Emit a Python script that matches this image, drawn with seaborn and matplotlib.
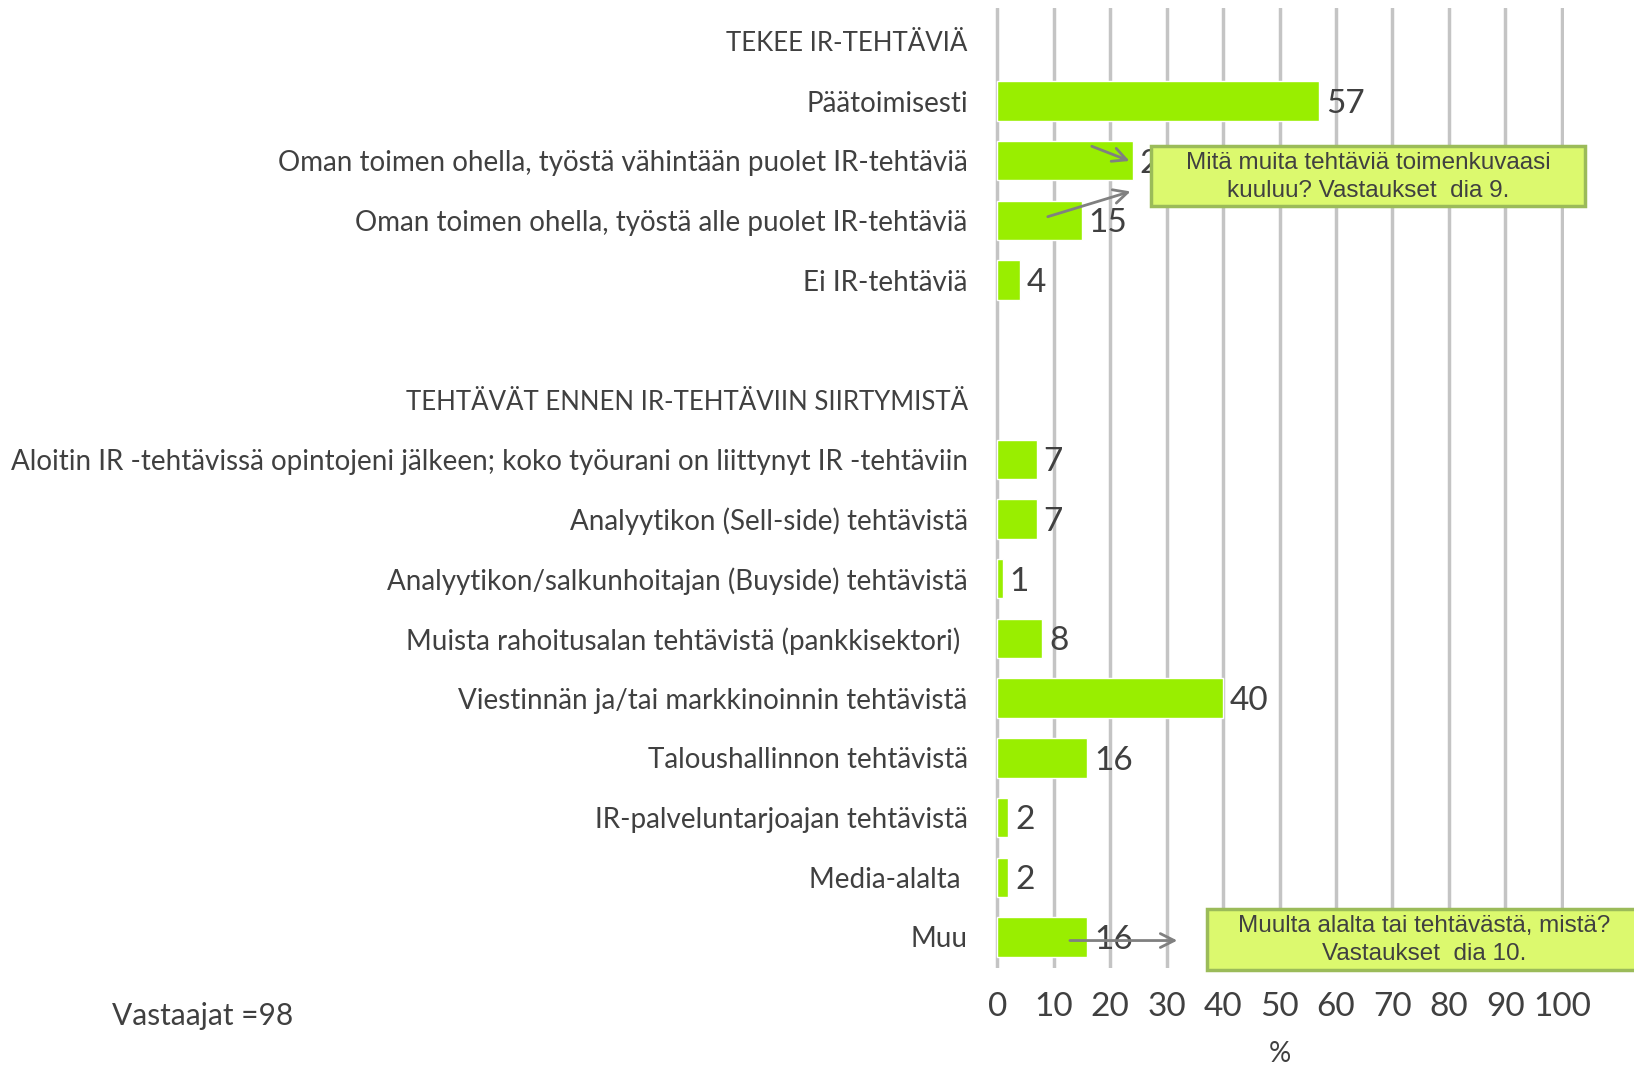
import numpy as np
import pandas as pd
import matplotlib
matplotlib.use("Agg")
import matplotlib.pyplot as plt
from matplotlib.patches import Rectangle
import seaborn as sns

# rows from top to bottom; section headers and the spacer row carry no value
labels = [
    "TEKEE IR-TEHTÄVIÄ",
    "Päätoimisesti",
    "Oman toimen ohella, työstä vähintään puolet IR-tehtäviä",
    "Oman toimen ohella, työstä alle puolet IR-tehtäviä",
    "Ei IR-tehtäviä",
    " ",
    "TEHTÄVÄT ENNEN IR-TEHTÄVIIN SIIRTYMISTÄ",
    "Aloitin IR -tehtävissä opintojeni jälkeen; koko työurani on liittynyt IR -tehtäviin",
    "Analyytikon (Sell-side) tehtävistä",
    "Analyytikon/salkunhoitajan (Buyside) tehtävistä",
    "Muista rahoitusalan tehtävistä (pankkisektori) ",
    "Viestinnän ja/tai markkinoinnin tehtävistä",
    "Taloushallinnon tehtävistä",
    "IR-palveluntarjoajan tehtävistä",
    "Media-alalta ",
    "Muu",
]
values = [np.nan, 57, 24, 15, 4, np.nan, np.nan, 7, 7, 1, 8, 40, 16, 2, 2, 16]
headers = ["TEKEE IR-TEHTÄVIÄ", "TEHTÄVÄT ENNEN IR-TEHTÄVIIN SIIRTYMISTÄ"]
xticks = list(range(0, 101, 10))

note1 = "Mitä muita tehtäviä toimenkuvaasi\nkuuluu? Vastaukset  dia 9."
note2 = "Muulta alalta tai tehtävästä, mistä?\nVastaukset  dia 10."
respondents = "Vastaajat =98"

TXT = "#404040"
BAR = "#99ee00"

sns.set_style("white")
plt.rcParams["font.family"] = ["Lato", "DejaVu Sans"]

df = pd.DataFrame({"label": labels, "value": values})
bars = df.dropna()

fig = plt.figure(figsize=(16.34, 10.74), dpi=100)
ax = fig.add_axes([0.6092, 0.0987, 0.3477, 0.8939])

sns.barplot(data=bars, x="value", y="label", order=labels, orient="h",
            color=BAR, saturation=1, width=0.66, ax=ax, zorder=2)

# value labels next to the bars
for p, v in zip(ax.containers[0], bars["value"]):
    ax.annotate(f"{int(v)}", xy=(p.get_width(), p.get_y() + p.get_height() / 2),
                xytext=(5, -2), textcoords="offset points", ha="left",
                va="center", fontsize=24, color=TXT, zorder=3)

ax.set_xlim(-0.3, 100.3)
ax.set_ylim(15.52, -0.56)
ax.set_xticks(xticks)
ax.grid(axis="x", color="#c4c4c4", lw=2.5)
ax.grid(axis="y", visible=False)
ax.set_axisbelow(True)
for s in ax.spines.values():
    s.set_visible(False)
ax.tick_params(axis="both", length=0)
ax.tick_params(axis="y", pad=20, labelsize=20, labelcolor=TXT)
ax.tick_params(axis="x", pad=17, labelsize=24, labelcolor=TXT)
for t in ax.get_yticklabels():
    if t.get_text() in headers:
        t.set_fontsize(18.5)
ax.set_ylabel("")
ax.set_xlabel("%", fontsize=20, color=TXT, labelpad=14)

# callout boxes
ax.add_patch(Rectangle((27.2, 1.75), 76.9, 1.01, facecolor="#dcf96e",
                       edgecolor="#9bbb59", lw=2.5, clip_on=False, zorder=5))
ax.text(65.65, 2.27, note1, ha="center", va="center", fontsize=17.5,
        family="Liberation Sans", color=TXT, linespacing=1.35, zorder=6)
ax.add_patch(Rectangle((37.2, 14.53), 76.9, 1.03, facecolor="#dcf96e",
                       edgecolor="#9bbb59", lw=2.5, clip_on=False, zorder=5))
ax.text(75.65, 15.05, note2, ha="center", va="center", fontsize=17.5,
        family="Liberation Sans", color=TXT, linespacing=1.35, zorder=6,
        clip_on=False)

arrow = dict(arrowstyle="->", color="#808080", lw=2, mutation_scale=25)
ax.annotate("", xy=(23.9, 2.02), xytext=(16.3, 1.74), arrowprops=arrow, zorder=7)
ax.annotate("", xy=(24.1, 2.50), xytext=(8.5, 2.95), arrowprops=arrow, zorder=7)
ax.annotate("", xy=(32.4, 15.06), xytext=(12.4, 15.06), arrowprops=arrow,
            zorder=7, annotation_clip=False)

fig.text(0.0685, 0.054, respondents, ha="left", va="center", fontsize=21.5, color=TXT)

fig.savefig("out.png", dpi=100)
